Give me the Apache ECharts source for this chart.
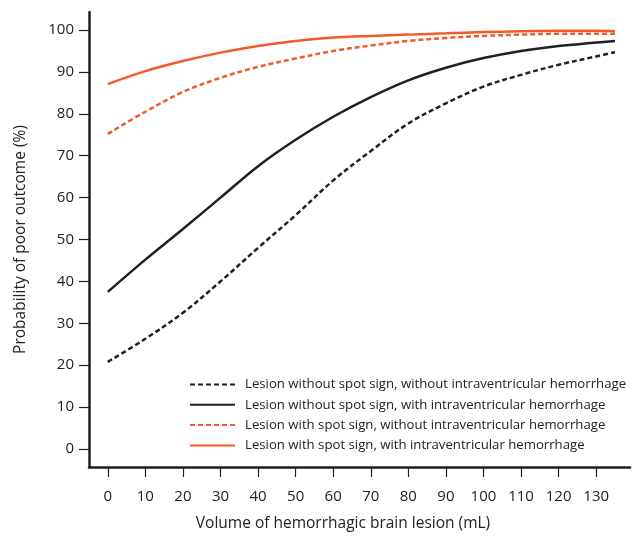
<!DOCTYPE html>
<html>
<head>
<meta charset="utf-8">
<script src="https://cdn.jsdelivr.net/npm/echarts@6/dist/echarts.min.js"></script>
<style>
html,body{margin:0;padding:0;background:#fff;}
#chart{width:632px;height:545px;}
</style>
</head>
<body>
<div id="chart"></div>
<script>
const xTicks = [0,10,20,30,40,50,60,70,80,90,100,110,120,130];
const yTicks = [0,10,20,30,40,50,60,70,80,90,100];

const volumes = [0,10,20,30,40,50,60,70,80,90,100,110,120,130,135];
const noSpotNoIVH = [20.8,26.3,32.5,40.0,48.0,55.8,64.1,71.1,77.7,82.5,86.5,89.3,91.7,93.7,94.7];
const noSpotIVH   = [37.5,45.2,52.5,60.0,67.5,73.8,79.3,84.0,88.0,91.0,93.3,95.0,96.2,97.0,97.4];
const spotNoIVH   = [75.2,80.5,85.2,88.6,91.2,93.2,95.0,96.3,97.4,98.1,98.6,98.9,99.1,99.1,99.1];
const spotIVH     = [87.1,90.2,92.6,94.6,96.2,97.4,98.2,98.6,98.9,99.2,99.5,99.7,99.8,99.8,99.7];

const names = [
  'Lesion without spot sign, without intraventricular hemorrhage',
  'Lesion without spot sign, with intraventricular hemorrhage',
  'Lesion with spot sign, without intraventricular hemorrhage',
  'Lesion with spot sign, with intraventricular hemorrhage'
];

const BLACK = '#231f20';
const ORANGE = '#f15a29';
const FONT = '"Open Sans", "Noto Sans", sans-serif';

function pairs(ys){ return volumes.map((x,i)=>[x, ys[i]]); }
function mk(name, ys, color, dashed){
  return {
    name, type:'line', data: pairs(ys), smooth: 0.35, symbol:'none', showSymbol:false,
    lineStyle:{color, width:2.5, type: dashed ? [5,3] : 'solid'},
    itemStyle:{color}, z: dashed ? 3 : 4
  };
}

const chart = echarts.init(document.getElementById('chart'), null, {renderer:'canvas'});
chart.setOption({
  animation:false,
  textStyle:{fontFamily:FONT},
  grid:{left:89, right:2, top:12, bottom:78},
  xAxis:{
    type:'value', min:-5, max:139,
    axisLine:{onZero:false, lineStyle:{color:BLACK, width:2.5}},
    axisTick:{show:true, customValues:xTicks, length:10, inside:false, lineStyle:{color:BLACK, width:1.2}},
    axisLabel:{customValues:xTicks, color:'#222', fontSize:15, margin:22, fontFamily:FONT},
    splitLine:{show:false}
  },
  yAxis:{
    type:'value', min:-4.3, max:104.3,
    name:'Probability of poor outcome (%)', nameLocation:'middle', nameGap:60,
    nameTextStyle:{color:'#222', fontSize:15.5, fontFamily:FONT},
    axisLine:{show:true, onZero:false, lineStyle:{color:BLACK, width:2.5}},
    axisTick:{show:true, customValues:yTicks, length:10, lineStyle:{color:BLACK, width:1.2}},
    axisLabel:{customValues:yTicks, color:'#222', fontSize:15, margin:15, fontFamily:FONT},
    splitLine:{show:false}
  },
  legend:{
    orient:'vertical', left:184, top:373, itemWidth:45, itemHeight:14, itemGap:7.3,
    itemStyle:{opacity:0},
    textStyle:{fontSize:13.2, color:'#222', fontFamily:FONT, padding:[0,0,0,5]},
    data:names
  },
  graphic:[{
    type:'text', x:343, y:516,
    style:{text:'Volume of hemorrhagic brain lesion (mL)', font:'15.5px '+FONT, fill:'#222', textAlign:'center'}
  }],
  series:[
    mk(names[0], noSpotNoIVH, BLACK, true),
    mk(names[1], noSpotIVH, BLACK, false),
    mk(names[2], spotNoIVH, ORANGE, true),
    mk(names[3], spotIVH, ORANGE, false)
  ]
});
</script>
</body>
</html>
